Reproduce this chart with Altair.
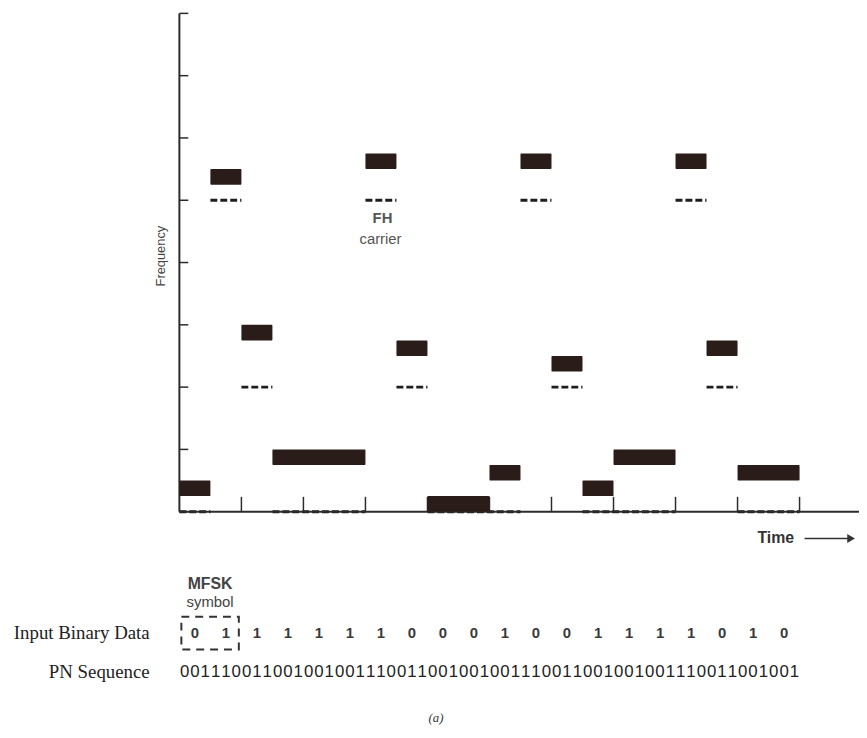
import altair as alt
import pandas as pd

# ---- data ----
# FH carrier (in band units) used by each of the 20 chips (hop slots)
chip_carrier = [0, 5, 2, 0, 0, 0, 5, 2, 0, 0, 0, 5, 2, 0, 0, 0, 5, 2, 0, 0]
# MFSK tone (0-3) sent in each chip
chip_tone = [1, 1, 3, 3, 3, 3, 2, 2, 0, 0, 2, 2, 1, 1, 3, 3, 2, 2, 2, 2]
# input binary data, one bit per chip
input_bits = [0, 1, 1, 1, 1, 1, 1, 0, 0, 0, 1, 0, 0, 1, 1, 1, 1, 0, 1, 0]
# PN sequence (3 bits per chip)
pn_sequence = "001110011001001001110011001001001110011001001001110011001001"
# frequency gridlines (band edges, in tone units) and symbol boundaries (in chips)
freq_ticks = [0, 4, 8, 12, 16, 20, 24, 28, 32]
symbol_edges = [2, 4, 6, 8, 10, 12, 14, 16, 18, 20]

TONES_PER_BAND = 4

# ---- tables ----
bars = []
start = 0
for i in range(1, len(chip_tone) + 1):
    if i == len(chip_tone) or chip_tone[i] != chip_tone[start] or chip_carrier[i] != chip_carrier[start]:
        f = chip_carrier[start] * TONES_PER_BAND + chip_tone[start]
        bars.append({"t0": start, "t1": i, "f0": f, "f1": f + 1})
        start = i
bars_df = pd.DataFrame(bars)

carriers = []
start = 0
for i in range(1, len(chip_carrier) + 1):
    if i == len(chip_carrier) or chip_carrier[i] != chip_carrier[start]:
        carriers.append({"t0": start, "t1": i, "f": chip_carrier[start] * TONES_PER_BAND})
        start = i
carrier_df = pd.DataFrame(carriers)

bits_df = pd.DataFrame({"t": [i + 0.5 for i in range(len(input_bits))],
                        "bit": [str(b) for b in input_bits]})
pn_df = pd.DataFrame({"t": [(i + 0.5) / 3 for i in range(len(pn_sequence))],
                      "d": list(pn_sequence)})
fticks_df = pd.DataFrame({"f": freq_ticks})
sticks_df = pd.DataFrame({"t": symbol_edges})
one = pd.DataFrame({"a": [0]})

xs = alt.Scale(domain=[0, 20], nice=False, zero=False)
ys = alt.Scale(domain=[0, 32], nice=False, zero=False)
AX = "#2b2b2b"
BAR = "#2a1c18"

# axes
y_axis = alt.Chart(one).mark_rule(color=AX, strokeWidth=2).encode(
    x=alt.value(0), y=alt.value(0), y2=alt.value(503))
x_axis = alt.Chart(one).mark_rule(color=AX, strokeWidth=2).encode(
    x=alt.value(0), x2=alt.value(686), y=alt.value(503))
y_ticks = alt.Chart(fticks_df).mark_rule(color=AX, strokeWidth=1.5).encode(
    y=alt.Y("f:Q", scale=ys, axis=None), x=alt.value(0), x2=alt.value(9))
x_ticks = alt.Chart(sticks_df).mark_rule(color=AX, strokeWidth=1.5).encode(
    x=alt.X("t:Q", scale=xs, axis=None), y=alt.value(488), y2=alt.value(503))

carrier_lines = alt.Chart(carrier_df).mark_rule(
    color="#1e1e1e", strokeWidth=3, strokeDash=[7, 3]).encode(
    x=alt.X("t0:Q", scale=xs, axis=None), x2="t1:Q",
    y=alt.Y("f:Q", scale=ys, axis=None))

rects = alt.Chart(bars_df).mark_rect(color=BAR, cornerRadius=1).encode(
    x=alt.X("t0:Q", scale=xs, axis=None), x2="t1:Q",
    y=alt.Y("f0:Q", scale=ys, axis=None), y2="f1:Q")

bits_text = alt.Chart(bits_df).mark_text(
    font="Liberation Sans", fontSize=15, fontWeight="bold", color="#3a3a3a",
    baseline="middle").encode(
    x=alt.X("t:Q", scale=xs, axis=None), y=alt.value(625), text="bit:N")
pn_text = alt.Chart(pn_df).mark_text(
    font="Liberation Sans", fontSize=17, color="#222222", baseline="middle").encode(
    x=alt.X("t:Q", scale=xs, axis=None), y=alt.value(665), text="d:N")

def label(txt, x, y, **kw):
    return alt.Chart(one).mark_text(text=txt, baseline="middle", **kw).encode(
        x=alt.value(x), y=alt.value(y))

labels = [
    label("Frequency", -19, 245, angle=270, font="Liberation Sans", fontSize=13, color="#444444"),
    label("FH", 205, 207, font="Liberation Sans", fontSize=15, fontWeight="bold", color="#555555"),
    label("carrier", 203, 228, font="Liberation Sans", fontSize=15, color="#555555"),
    label("Time", 602, 530, font="Liberation Sans", fontSize=16, fontWeight="bold", color="#333333"),
    label("MFSK", 31, 576, font="Liberation Sans", fontSize=16, fontWeight="bold", color="#444444"),
    label("symbol", 31, 594, font="Liberation Sans", fontSize=15, color="#444444"),
    label("Input Binary Data", -30, 625, align="right", font="Liberation Serif", fontSize=19, color="#222222"),
    label("PN Sequence", -30, 665, align="right", font="Liberation Serif", fontSize=19, color="#222222"),
    label("(a)", 259, 711, font="Liberation Serif", fontSize=13, fontStyle="italic", color="#333333"),
]

arrow_line = alt.Chart(one).mark_rule(color="#333333", strokeWidth=1.5).encode(
    x=alt.value(631), x2=alt.value(676), y=alt.value(530))
arrow_head = alt.Chart(one).mark_point(shape="triangle-right", filled=True, size=80,
                                       color="#333333", opacity=1).encode(
    x=alt.value(678), y=alt.value(530))

box = alt.Chart(one).mark_rect(fillOpacity=0, stroke="#333333", strokeWidth=2,
                               strokeDash=[8, 6]).encode(
    x=alt.value(2), x2=alt.value(60), y=alt.value(609), y2=alt.value(642))

chart = alt.layer(
    carrier_lines, x_axis, y_axis, y_ticks, x_ticks, rects,
    bits_text, pn_text, box, arrow_line, arrow_head, *labels
).properties(
    width=626, height=503,
    padding={"left": 173, "top": 2, "right": 60, "bottom": 225},
    autosize=alt.AutoSizeParams(type="none"),
).configure_view(stroke=None)

chart.save("out.html", embed_options={"renderer": "svg", "actions": False})
